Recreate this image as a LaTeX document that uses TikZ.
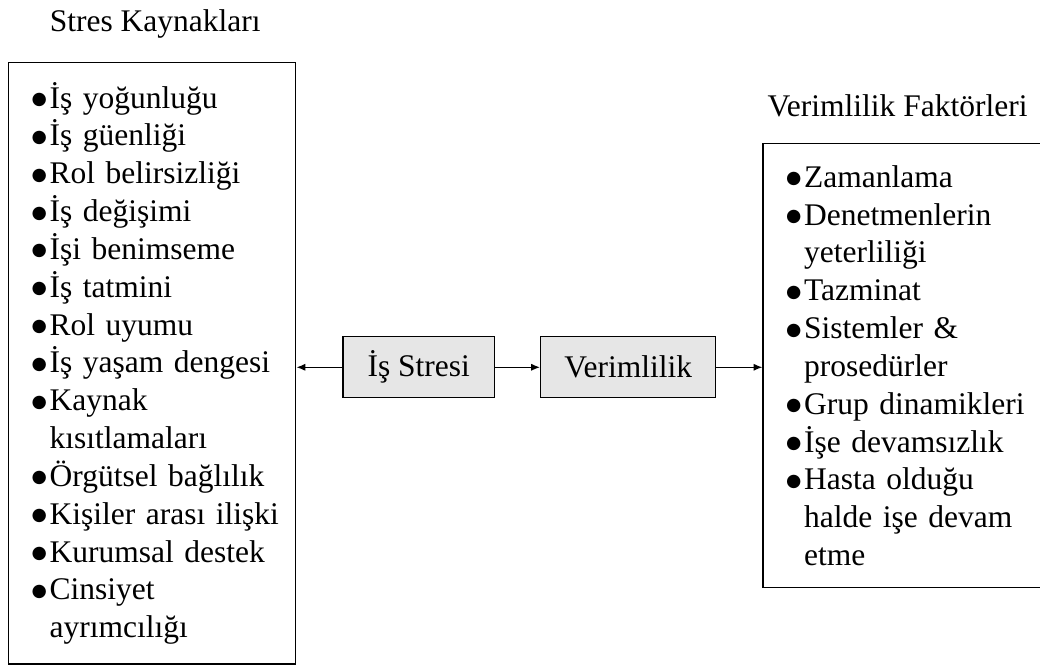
\documentclass[tikz,border=0pt]{standalone}
\usepackage{fontspec}
\setmainfont{Liberation Serif}
\newfontfamily\dotfont{DejaVu Sans}
\usetikzlibrary{arrows.meta, positioning, calc}
\definecolor{boxGray}{RGB}{230,230,230}
\newcommand{\itm}[1]{\makebox[0.45cm][l]{\raisebox{0.11em}{\dotfont\fontsize{12.5}{12.5}\selectfont ●}}\mbox{#1}}
\newcommand{\cnt}[1]{\hspace*{0.45cm}\mbox{#1}}
\tikzset{
    listbox/.style={
        rectangle,
        draw=black,
        line width=1pt,
        align=left,
        inner xsep=0.575cm,
        inner ysep=0pt,
        font=\fontsize{22.4}{26.9}\selectfont
    },
    midbox/.style={
        rectangle,
        draw=black,
        line width=1pt,
        fill=boxGray,
        align=center,
        minimum height=1.525cm,
        font=\fontsize{22.4}{26.9}\selectfont
    },
    heading/.style={inner sep=0pt, font=\fontsize{22.4}{26.9}\selectfont},
    flowarrow/.style={-{Latex[length=2.2mm, width=1.8mm]}, line width=0.9pt, draw=black}
}

\begin{document}
\begin{tikzpicture}[x=0.025cm, y=-0.025cm]
        \clip (0,0) rectangle (1040,665);
        \node[listbox, anchor=north west, minimum width=7.175cm, minimum height=15.025cm, text width=6.025cm] (sources) at (8,62) {%
            \itm{İş yoğunluğu}\\
            \itm{İş güenliği}\\
            \itm{Rol belirsizliği}\\
            \itm{İş değişimi}\\
            \itm{İşi benimseme}\\
            \itm{İş tatmini}\\
            \itm{Rol uyumu}\\
            \itm{İş yaşam dengesi}\\
            \itm{Kaynak}\\
            \cnt{kısıtlamaları}\\
            \itm{Örgütsel bağlılık}\\
            \itm{Kişiler arası ilişki}\\
            \itm{Kurumsal destek}\\
            \itm{Cinsiyet}\\
            \cnt{ayrımcılığı}};
        \node[midbox, minimum width=3.775cm, right=1.15cm of sources, yshift=-0.1cm] (stress) {İş Stresi};
        \node[midbox, minimum width=4.375cm, right=1.125cm of stress] (verim) {Verimlilik};
        \node[listbox, minimum width=7.325cm, minimum height=11.1cm, text width=6.175cm, right=1.15cm of verim, yshift=0.04cm] (factors) {%
            \itm{Zamanlama}\\
            \itm{Denetmenlerin}\\
            \cnt{yeterliliği}\\
            \itm{Tazminat}\\
            \itm{Sistemler \&}\\
            \cnt{prosedürler}\\
            \itm{Grup dinamikleri}\\
            \itm{İşe devamsızlık}\\
            \itm{Hasta olduğu}\\
            \cnt{halde işe devam}\\
            \cnt{etme}};
        \node[heading, anchor=base] (srcTitle) at ($(sources.north)+(3,-31)$) {Stres Kaynakları};
        \node[heading, anchor=base west] (facTitle) at ($(factors.north west)+(5,-26)$) {Verimlilik Faktörleri};

        \draw[flowarrow] (stress.west) -- (stress.west -| sources.east);
        \draw[flowarrow] (stress.east) -- (verim.west);
        \draw[flowarrow] (verim.east) -- (verim.east -| factors.west);
    \end{tikzpicture}
\end{document}
